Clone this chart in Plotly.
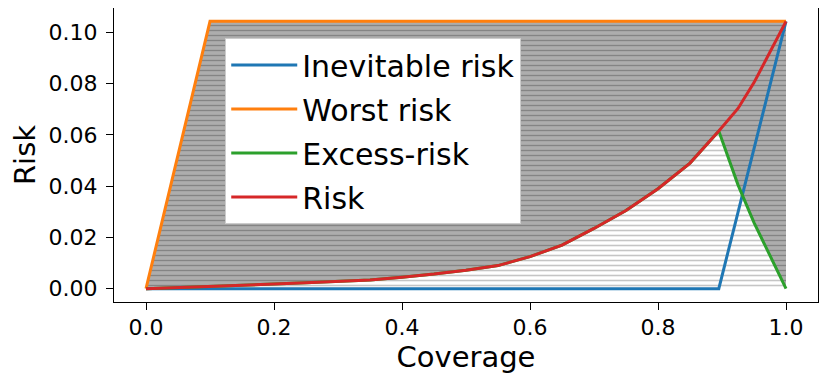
import plotly.graph_objects as go

coverage = [0.0, 0.05, 0.10, 0.15, 0.20, 0.25, 0.30, 0.35, 0.40, 0.45, 0.50, 0.55,
            0.60, 0.65, 0.70, 0.75, 0.80, 0.85, 0.895, 0.925, 0.95, 0.975, 1.0]
risk = [0.0, 0.0004, 0.0008, 0.0012, 0.0018, 0.0023, 0.0028, 0.0034, 0.0045, 0.0057,
        0.0072, 0.0090, 0.0125, 0.0170, 0.0235, 0.0305, 0.0390, 0.0490, 0.0615,
        0.0703, 0.0804, 0.0922, 0.1043]
inevitable_risk = [0.0] * 18 + [0.0, 0.0298, 0.0546, 0.0795, 0.1043]
excess_risk = [0.0, 0.0004, 0.0008, 0.0012, 0.0018, 0.0023, 0.0028, 0.0034, 0.0045, 0.0057,
               0.0072, 0.0090, 0.0125, 0.0170, 0.0235, 0.0305, 0.0390, 0.0490, 0.0615,
               0.0405, 0.0258, 0.0127, 0.0]
worst_risk = [0.0, 0.0522, 0.1043] + [0.1043] * 20

x_ticks = [0.0, 0.2, 0.4, 0.6, 0.8, 1.0]
x_ticklabels = ["0.0", "0.2", "0.4", "0.6", "0.8", "1.0"]
y_ticks = [0.00, 0.02, 0.04, 0.06, 0.08, 0.10]
y_ticklabels = ["0.00", "0.02", "0.04", "0.06", "0.08", "0.10"]

FONT = "DejaVu Sans"
fig = go.Figure()

# white hatched area under excess risk
fig.add_trace(go.Scatter(
    x=coverage, y=excess_risk, mode="lines", line=dict(width=0),
    fill="tozeroy", fillcolor="white",
    fillpattern=dict(shape="-", fgcolor="#8c8c8c", bgcolor="white", size=5, solidity=0.32),
    showlegend=False, hoverinfo="skip", legendgroup="fill"))
# gray hatched area between excess and worst risk
fig.add_trace(go.Scatter(
    x=coverage, y=worst_risk, mode="lines", line=dict(width=0),
    fill="tonexty", fillcolor="#aaaaaa",
    fillpattern=dict(shape="-", fgcolor="#5c5c5c", bgcolor="#adadad", size=5, solidity=0.27),
    showlegend=False, hoverinfo="skip", legendgroup="fill"))

series = [
    ("Inevitable risk", inevitable_risk, "#1f77b4"),
    ("Worst risk", worst_risk, "#ff7f0e"),
    ("Excess-risk", excess_risk, "#2ca02c"),
    ("Risk", risk, "#d62728"),
]
for i, (name, ys, col) in enumerate(series):
    fig.add_trace(go.Scatter(x=coverage, y=ys, mode="lines", name=name,
                             legendgroup=f"g{i}",
                             line=dict(color=col, width=3)))

axis_common = dict(
    showgrid=False, zeroline=False, showline=True, linecolor="black", linewidth=1,
    mirror=True, ticks="outside", ticklen=7, tickcolor="black", tickwidth=1,
    tickfont=dict(family=FONT, size=22, color="black"), automargin=False,
)
fig.update_xaxes(range=[-0.05, 1.05], tickvals=x_ticks, ticktext=x_ticklabels,
                 ticklabelstandoff=-1,
                 title=dict(text="Coverage", font=dict(family=FONT, size=29, color="black"),
                            standoff=2),
                 **axis_common)
fig.update_yaxes(range=[-0.0052, 0.1095], tickvals=y_ticks, ticktext=y_ticklabels,
                 ticklabelstandoff=4,
                 title=dict(text="Risk", font=dict(family=FONT, size=29, color="black"),
                            standoff=6),
                 **axis_common)

# page body adds an 8px offset; compensate in the figure size/margins
fig.update_layout(
    width=823, height=373,
    margin=dict(l=106, r=13, t=0, b=79, pad=0),
    paper_bgcolor="white", plot_bgcolor="white",
    font=dict(family=FONT, color="black"),
    legend=dict(x=0.158, y=0.898, xanchor="left", yanchor="top",
                bgcolor="white", bordercolor="#cccccc", borderwidth=1,
                font=dict(family=FONT, size=30, color="black"),
                itemwidth=66, traceorder="grouped", tracegroupgap=2),
)

fig.write_html("out.html")
